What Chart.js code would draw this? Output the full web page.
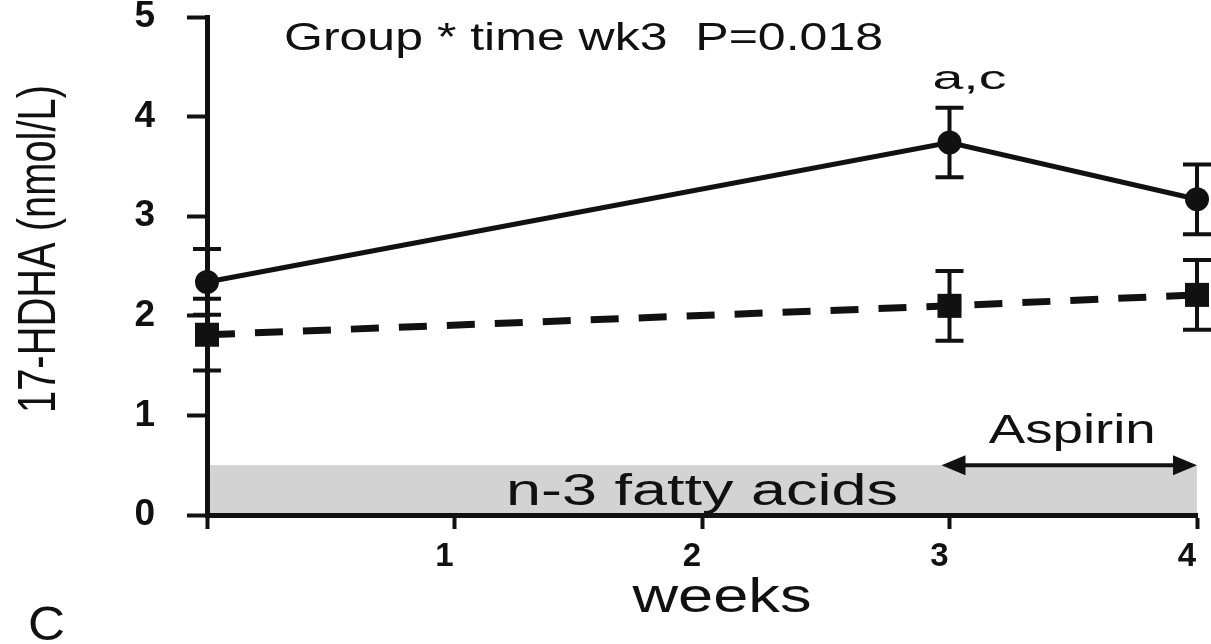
<!DOCTYPE html>
<html>
<head>
<meta charset="utf-8">
<script src="https://cdn.jsdelivr.net/npm/chart.js@4.4.0/dist/chart.umd.min.js"></script>
<style>
  html, body { margin: 0; padding: 0; background: #fff; }
  canvas { display: block; }
</style>
</head>
<body>
<canvas id="c" width="1211" height="644"></canvas>
<script>
// datos (17-HDHA, nmol/L)
const weeks = [0, 3, 4];
const fishOil = [2.34, 3.74, 3.17];      // linea continua, circulos
const fishOilErr = [0.33, 0.35, 0.35];
const control = [1.81, 2.10, 2.21];      // linea discontinua, cuadrados
const controlErr = [0.36, 0.35, 0.35];
const xTicks = [0, 1, 2, 3, 4];
const yTicks = [0, 1, 2, 3, 4, 5];

// anotaciones
const bandFrom = 0, bandTo = 4, bandTop = 0.5;
const aspirinFrom = 3, aspirinTo = 4;

const FONT = "'Liberation Sans', Arial, Helvetica, sans-serif";
const INK = '#111';

// texto ensanchado (la figura original esta estirada en horizontal)
function wideText(ctx, txt, x, y, size, width, align) {
    ctx.save();
    ctx.font = size + 'px ' + FONT;
    const w = ctx.measureText(txt).width;
    ctx.translate(x, y);
    ctx.scale(width / w, 1);
    ctx.textAlign = align || 'left';
    ctx.textBaseline = 'alphabetic';
    ctx.fillStyle = INK;
    ctx.fillText(txt, 0, 0);
    ctx.restore();
}

const bandPlugin = {
    id: 'band',
    beforeDraw(chart) {
        const { ctx, scales: { x, y } } = chart;
        ctx.save();
        ctx.fillStyle = '#d3d3d3';
        const x0 = x.getPixelForValue(bandFrom), x1 = x.getPixelForValue(bandTo);
        const y0 = y.getPixelForValue(0), y1 = y.getPixelForValue(bandTop);
        ctx.fillRect(x0, y1, x1 - x0, y0 - y1);
        ctx.restore();
    }
};

const errorBars = {
    id: 'errorBars',
    afterDatasetsDraw(chart) {
        const { ctx, scales: { x, y } } = chart;
        const sets = [[fishOil, fishOilErr], [control, controlErr]];
        ctx.save();
        ctx.strokeStyle = INK;
        ctx.lineWidth = 4;
        sets.forEach(([vals, errs]) => {
            vals.forEach((v, i) => {
                const px = x.getPixelForValue(weeks[i]);
                const top = y.getPixelForValue(v + errs[i]);
                const bot = y.getPixelForValue(v - errs[i]);
                ctx.beginPath();
                ctx.moveTo(px, top); ctx.lineTo(px, bot);
                ctx.moveTo(px - 14, top); ctx.lineTo(px + 14, top);
                ctx.moveTo(px - 14, bot); ctx.lineTo(px + 14, bot);
                ctx.stroke();
            });
        });
        ctx.restore();
    }
};

const labels = {
    id: 'labels',
    afterDatasetsDraw(chart) {
        const { ctx, scales: { x, y } } = chart;

        // flecha doble de aspirina
        const ay = y.getPixelForValue(bandTop);
        const ax0 = x.getPixelForValue(aspirinFrom) - 8, ax1 = x.getPixelForValue(aspirinTo);
        ctx.save();
        ctx.strokeStyle = INK; ctx.fillStyle = INK; ctx.lineWidth = 4;
        ctx.beginPath(); ctx.moveTo(ax0 + 20, ay); ctx.lineTo(ax1 - 20, ay); ctx.stroke();
        ctx.beginPath(); ctx.moveTo(ax0, ay); ctx.lineTo(ax0 + 24, ay - 10); ctx.lineTo(ax0 + 24, ay + 10); ctx.closePath(); ctx.fill();
        ctx.beginPath(); ctx.moveTo(ax1, ay); ctx.lineTo(ax1 - 24, ay - 10); ctx.lineTo(ax1 - 24, ay + 10); ctx.closePath(); ctx.fill();
        ctx.restore();

        wideText(ctx, 'Aspirin', x.getPixelForValue(3.5) - 1, 443, 40, 167, 'center');
        wideText(ctx, 'n-3 fatty acids', x.getPixelForValue(2), 505, 45, 392, 'center');
        wideText(ctx, 'Group * time wk3  P=0.018', 284, 50, 39, 599, 'left');
        wideText(ctx, 'a,c', x.getPixelForValue(3) + 20, 89, 34, 74, 'center');
        wideText(ctx, 'weeks', x.getPixelForValue(2) + 20, 612, 48, 179, 'center');
        wideText(ctx, 'C', 28, 640, 48, 37, 'left');

        // titulo del eje Y, girado y ensanchado
        ctx.save();
        ctx.font = '40px ' + FONT;
        const t = '17-HDHA (nmol/L)';
        const w = ctx.measureText(t).width;
        ctx.translate(40, 249);
        ctx.rotate(-Math.PI / 2);
        ctx.scale(328 / w, 1.33);
        ctx.textAlign = 'center';
        ctx.textBaseline = 'middle';
        ctx.fillStyle = INK;
        ctx.fillText(t, 0, 0);
        ctx.restore();
    }
};

const ctx = document.getElementById('c').getContext('2d');
new Chart(ctx, {
    type: 'line',
    data: {
        datasets: [
            {
                data: weeks.map((w, i) => ({ x: w, y: fishOil[i] })),
                borderColor: INK, backgroundColor: INK, borderWidth: 5,
                pointStyle: 'circle', pointRadius: 12, pointBorderWidth: 0,
                tension: 0, clip: false
            },
            {
                data: weeks.map((w, i) => ({ x: w, y: control[i] })),
                borderColor: INK, backgroundColor: INK, borderWidth: 7, borderDash: [28, 20],
                pointStyle: 'rect', pointRadius: 17, pointBorderWidth: 0,
                tension: 0, clip: false
            }
        ]
    },
    options: {
        responsive: false,
        animation: false,
        layout: { autoPadding: false, padding: { left: 0, right: 14, top: 17, bottom: 0 } },
        plugins: { legend: { display: false }, tooltip: { enabled: false } },
        scales: {
            x: {
                type: 'linear', min: 0, max: 4,
                afterBuildTicks: s => { s.ticks = xTicks.map(v => ({ value: v })); },
                afterFit: s => { s.height = 129; s.paddingLeft = 0; s.paddingRight = 0; },
                ticks: {
                    callback: v => (v === 0 ? '' : v),
                    font: { family: FONT, size: 33, weight: 'bold' },
                    color: INK, padding: 8, labelOffset: -10, maxRotation: 0
                },
                grid: { drawOnChartArea: false, tickLength: 14, tickWidth: 4, tickColor: INK },
                border: { color: INK, width: 5 }
            },
            y: {
                min: 0, max: 5,
                afterBuildTicks: s => { s.ticks = yTicks.map(v => ({ value: v })); },
                afterFit: s => { s.width = 207; s.paddingTop = 0; s.paddingBottom = 0; },
                ticks: {
                    font: { family: FONT, size: 37, weight: 'bold' },
                    color: INK, padding: 32
                },
                grid: { drawOnChartArea: false, tickLength: 20, tickWidth: 4, tickColor: INK },
                border: { color: INK, width: 5 }
            }
        }
    },
    plugins: [bandPlugin, errorBars, labels]
});
</script>
</body>
</html>
